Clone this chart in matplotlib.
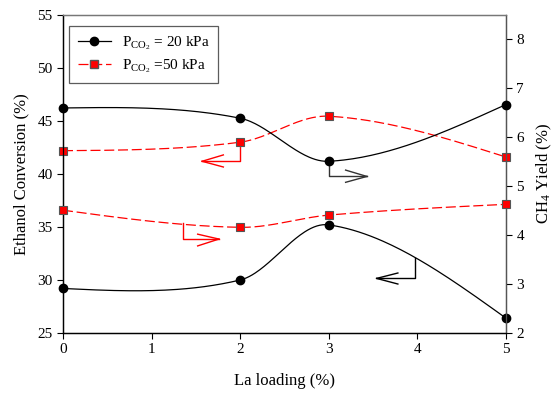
import numpy as np
import matplotlib
matplotlib.use("Agg")
import matplotlib.pyplot as plt
from matplotlib.lines import Line2D

plt.rcParams['font.family'] = ['Liberation Serif', 'DejaVu Serif']
plt.rcParams['mathtext.fontset'] = 'custom'
plt.rcParams['mathtext.rm'] = 'Liberation Serif'
plt.rcParams['mathtext.it'] = 'Liberation Serif:italic'

# ---- data ----
la_loading = [0, 2, 3, 5]
conv_20kPa = [29.2, 30.0, 35.2, 26.4]     # left axis, black
conv_50kPa = [42.2, 43.0, 45.45, 41.6]    # left axis, red
ch4_20kPa = [6.6, 6.39, 5.51, 6.67]       # right axis, black
ch4_50kPa = [4.51, 4.16, 4.41, 4.63]      # right axis, red
x_ticks = [0, 1, 2, 3, 4, 5]
left_ticks = [25, 30, 35, 40, 45, 50, 55]
right_ticks = [2, 3, 4, 5, 6, 7, 8]
label_20 = r'P$_{\mathrm{CO_2}}$ = 20 kPa'
label_50 = r'P$_{\mathrm{CO_2}}$ =50 kPa'


def smooth_curve(x, y, n=60):
    """Cubic Hermite curve: central-difference tangents, natural end tangents."""
    x = np.asarray(x, float); y = np.asarray(y, float)
    m = len(x)
    d = np.zeros(m)
    for i in range(1, m - 1):
        d[i] = (y[i + 1] - y[i - 1]) / (x[i + 1] - x[i - 1])
    d[0] = (3 * (y[1] - y[0]) / (x[1] - x[0]) - d[1]) / 2
    d[-1] = (3 * (y[-1] - y[-2]) / (x[-1] - x[-2]) - d[-2]) / 2
    xs_all, ys_all = [], []
    for i in range(m - 1):
        h = x[i + 1] - x[i]
        t = np.linspace(0, 1, n)
        h00 = 2 * t**3 - 3 * t**2 + 1
        h10 = t**3 - 2 * t**2 + t
        h01 = -2 * t**3 + 3 * t**2
        h11 = t**3 - t**2
        xs_all.append(x[i] + t * h)
        ys_all.append(h00 * y[i] + h10 * h * d[i] + h01 * y[i + 1] + h11 * h * d[i + 1])
    return np.concatenate(xs_all), np.concatenate(ys_all)


fig = plt.figure(figsize=(5.56, 3.93), dpi=100)
ax = fig.add_axes([0.1133, 0.1527, 0.7967, 0.8091])
ax2 = ax.twinx()

red = '#ff0000'
dash = (0, (8, 3))

# left-axis series
xs, ys = smooth_curve(la_loading, conv_20kPa)
ax.plot(xs, ys, color='black', lw=0.9)
ax.plot(la_loading, conv_20kPa, 'o', color='black', ms=6, clip_on=False, zorder=5)
xs, ys = smooth_curve(la_loading, conv_50kPa)
ax.plot(xs, ys, color=red, lw=0.9, linestyle=dash)
ax.plot(la_loading, conv_50kPa, 's', mfc=red, mec='#555555', mew=0.8, ms=6, clip_on=False, zorder=5)

# right-axis series
xs, ys = smooth_curve(la_loading, ch4_20kPa)
ax2.plot(xs, ys, color='black', lw=0.9)
ax2.plot(la_loading, ch4_20kPa, 'o', color='black', ms=6, clip_on=False, zorder=5)
xs, ys = smooth_curve(la_loading, ch4_50kPa)
ax2.plot(xs, ys, color=red, lw=0.9, linestyle=dash)
ax2.plot(la_loading, ch4_50kPa, 's', mfc=red, mec='#555555', mew=0.8, ms=6, clip_on=False, zorder=5)


# axis-indicator arrows (annotations)
def bent_arrow(a, pts, head, color):
    px, py = zip(*pts)
    a.plot(px, py, color=color, lw=1.0)
    tip = pts[-1]
    for hp in head:
        a.plot([tip[0], hp[0]], [tip[1], hp[1]], color=color, lw=1.0)


bent_arrow(ax, [(2, 43.0), (2, 41.2), (1.57, 41.2)], [(1.81, 41.8), (1.81, 40.66)], red)
bent_arrow(ax, [(3.97, 32.1), (3.97, 30.15), (3.54, 30.15)], [(3.78, 30.66), (3.78, 29.62)], 'black')
bent_arrow(ax2, [(3, 5.51), (3, 5.20), (3.43, 5.20)], [(3.19, 5.33), (3.19, 5.08)], '#333333')
bent_arrow(ax2, [(1.35, 4.25), (1.35, 3.92), (1.76, 3.92)], [(1.52, 4.02), (1.52, 3.78)], red)

ax.set_xlim(0, 5)
ax.set_ylim(25, 55)
ax2.set_ylim(2, 8.5)
ax.set_xticks(x_ticks)
ax.set_yticks(left_ticks)
ax2.set_yticks(right_ticks)
ax.tick_params(direction='out', length=4, labelsize=11, width=0.8)
ax2.tick_params(direction='out', length=4, labelsize=11, width=0.8)
for a in (ax, ax2):
    a.spines['top'].set_color('#777777')
    a.spines['right'].set_color('#555555')
    a.spines['left'].set_color('black')
    a.spines['bottom'].set_color('black')
    for s in a.spines.values():
        s.set_linewidth(0.9)

ax.set_xlabel('La loading (%)', fontsize=12, labelpad=12)
ax.set_ylabel('Ethanol Conversion (%)', fontsize=12, labelpad=6)
ax2.set_ylabel('CH$_4$ Yield (%)', fontsize=12, labelpad=8)

h1 = Line2D([], [], color='black', lw=0.9, marker='o', ms=6)
h2 = Line2D([], [], color=red, lw=0.9, linestyle=dash, marker='s', mfc=red, mec='#555555', ms=6)
leg = ax2.legend([h1, h2], [label_20, label_50], loc='upper left',
                 bbox_to_anchor=(0.0, 0.985), fontsize=11, frameon=True,
                 fancybox=False, edgecolor='#333333', handlelength=2.2,
                 handletextpad=0.7, borderpad=0.55, labelspacing=0.35,
                 borderaxespad=0.4)
leg.get_frame().set_linewidth(0.9)

fig.savefig('out.png', dpi=100)
